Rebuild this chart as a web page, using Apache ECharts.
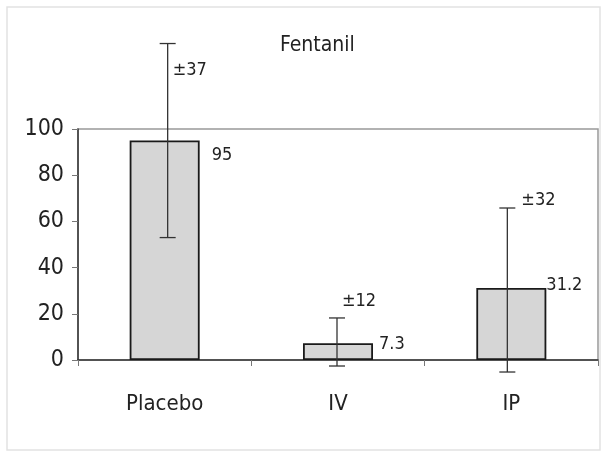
<!DOCTYPE html>
<html><head><meta charset="utf-8">
<script src="https://cdn.jsdelivr.net/npm/echarts@6/dist/echarts.min.js"></script>
<style>html,body{margin:0;padding:0;background:#fff}#c{width:606px;height:454px}</style>
</head><body><div id="c"></div>
<script>
const categories = ['Placebo', 'IV', 'IP'];
const means = [95, 7.3, 31.2];
const meanLabels = ['95', '7.3', '31.2'];
const errLow = [53, -2.6, -5.2];
const errHigh = [137, 18.2, 65.8];
const errLabels = ['±37', '±12', '±32'];
const yTicks = [0, 20, 40, 60, 80, 100];

// layout (label / error-bar placement relative to marks)
const meanLabelPos = [[82, 6], [76, -8], [70, -12]];
const errLabelPos = [[5, 18], [5, -26], [14, -17]];
const errShift = [3, -1, -4];

const FONT = "'Liberation Sans Narrow','DejaVu Sans Condensed',sans-serif";
const chart = echarts.init(document.getElementById('c'), null, {renderer: 'canvas'});
chart.setOption({
  animation: false,
  backgroundColor: '#fff',
  title: {text: 'Fentanil', left: 275, top: 30,
    textStyle: {fontFamily: FONT, fontSize: 21, fontWeight: 'normal', color: '#222'}},
  grid: {left: 78, right: 8, top: 129, bottom: 94, show: true, borderColor: '#999', borderWidth: 1.5},
  graphic: [{type: 'rect', shape: {x: 7, y: 7, width: 593, height: 443}, style: {fill: 'none', stroke: '#e2e2e2', lineWidth: 1.5}, z: -1}],
  xAxis: {type: 'category', data: categories,
    axisLine: {lineStyle: {color: '#333', width: 1.5}},
    axisTick: {show: true, length: 6, lineStyle: {color: '#777'}},
    axisLabel: {fontFamily: FONT, fontSize: 22, color: '#222', margin: 33}},
  yAxis: {type: 'value', min: 0, max: 100, interval: 20,
    axisLine: {show: true, lineStyle: {color: '#333', width: 1.5}},
    axisTick: {show: true, length: 6, lineStyle: {color: '#777'}},
    splitLine: {show: false},
    axisLabel: {fontFamily: FONT, fontSize: 23, color: '#222', margin: 14,
      formatter: v => yTicks.includes(v) ? String(v) : ''}},
  series: [
    {type: 'bar', barWidth: 70,
      itemStyle: {color: '#d6d6d6', borderColor: '#1a1a1a', borderWidth: 1.8},
      data: means.map((v, i) => ({value: v, label: {show: true, position: meanLabelPos[i],
        formatter: meanLabels[i], fontFamily: FONT, fontSize: 18, color: '#222'}}))},
    {type: 'custom', clip: false, z: 5,
      data: categories.map((c, i) => [i, errLow[i], errHigh[i]]),
      renderItem: (params, api) => {
        const i = api.value(0);
        const lo = api.coord([i, api.value(1)]);
        const hi = api.coord([i, api.value(2)]);
        const x = lo[0] + errShift[i], cap = 8;
        const st = {stroke: '#333', lineWidth: 1.3};
        return {type: 'group', children: [
          {type: 'line', shape: {x1: x, y1: hi[1], x2: x, y2: lo[1]}, style: st},
          {type: 'line', shape: {x1: x - cap, y1: hi[1], x2: x + cap, y2: hi[1]}, style: st},
          {type: 'line', shape: {x1: x - cap, y1: lo[1], x2: x + cap, y2: lo[1]}, style: st},
          {type: 'text', x: x + errLabelPos[i][0], y: hi[1] + errLabelPos[i][1],
            style: {text: errLabels[i], font: '18px ' + FONT, fill: '#222'}}
        ]};
      }}
  ]
});
</script></body></html>
